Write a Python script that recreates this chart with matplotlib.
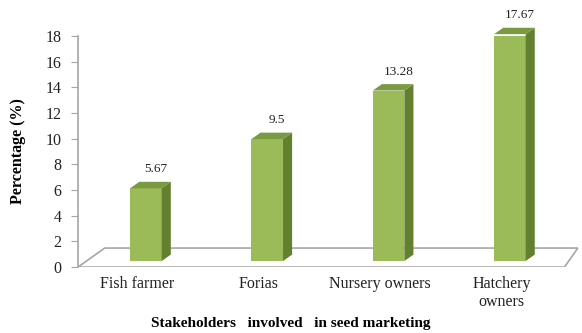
import matplotlib.pyplot as plt
from matplotlib.patches import Polygon

plt.rcParams['font.family'] = ['Liberation Serif', 'DejaVu Serif']

categories = ['Fish farmer', 'Forias', 'Nursery owners', 'Hatchery\nowners']
values = [5.67, 9.5, 13.28, 17.67]
value_labels = ['5.67', '9.5', '13.28', '17.67']

front_col = '#9BBB59'
side_col = '#62802F'
top_col = '#7A9A42'
grid_col = '#A6A6A6'

# pseudo-3D geometry (data units)
bar_w = 0.26
depth_x = 0.075
depth_y = 0.5
base = 0.47

fig = plt.figure(figsize=(5.82, 3.33), dpi=100)
ax = fig.add_axes([0.134, 0.198, 0.863, 0.694])
ax.set_xlim(-0.56, 3.58)
ax.set_ylim(0, 18)

# floor
floor = Polygon([(-0.56, 0), (3.45, 0), (3.56, 1.48), (-0.34, 1.48)],
                closed=True, facecolor='white', edgecolor=grid_col, lw=1.2, zorder=1)
ax.add_patch(floor)

x = list(range(len(categories)))
ax.bar(x, values, width=bar_w, bottom=base, color=front_col, edgecolor='none', zorder=3)

for xi, v, lab in zip(x, values, value_labels):
    x0, x1 = xi - bar_w / 2, xi + bar_w / 2
    y0, y1 = base, base + v
    side = Polygon([(x1, y0), (x1 + depth_x, y0 + depth_y), (x1 + depth_x, y1 + depth_y), (x1, y1)],
                   closed=True, facecolor=side_col, edgecolor='none', zorder=3, clip_on=False)
    top = Polygon([(x0, y1), (x1, y1), (x1 + depth_x, y1 + depth_y), (x0 + depth_x, y1 + depth_y)],
                  closed=True, facecolor=top_col, edgecolor='none', zorder=3, clip_on=False)
    ax.add_patch(side)
    ax.add_patch(top)
    ax.text(xi + 0.08, y1 + depth_y + 0.5, lab, ha='center', va='bottom', fontsize=9.5,
            color='#222222', clip_on=False)

for xi, cat in zip(x, categories):
    ax.text(xi - 0.07, -0.7, cat, ha='center', va='top', fontsize=11.5, color='#222222',
            linespacing=1.15)

ax.set_yticks(range(0, 19, 2))
ax.tick_params(axis='y', length=5, color=grid_col, labelsize=11.5, labelcolor='#222222', pad=7)
ax.set_xticks([])
for s in ['top', 'right', 'bottom']:
    ax.spines[s].set_visible(False)
ax.spines['left'].set_color(grid_col)
ax.spines['left'].set_linewidth(1.2)

ax.set_ylabel('Percentage (%)', fontsize=11.5, fontweight='bold', labelpad=14)
fig.text(0.5, 0.03, 'Stakeholders   involved   in seed marketing', ha='center', va='center',
         fontsize=11, fontweight='bold')

fig.savefig('out.png', dpi=100, facecolor='white')
